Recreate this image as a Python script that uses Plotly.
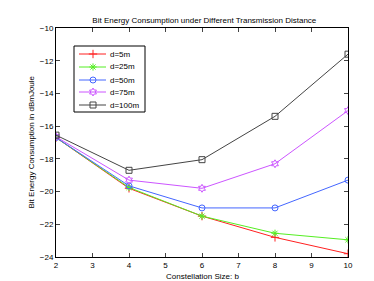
import plotly.graph_objects as go

x = [2, 4, 6, 8, 10]
names = ["d=5m", "d=25m", "d=50m", "d=75m", "d=100m"]
d5 = [-16.7, -19.8, -21.5, -22.8, -23.8]
d25 = [-16.7, -19.75, -21.5, -22.55, -22.95]
d50 = [-16.7, -19.65, -21.0, -21.0, -19.3]
d75 = [-16.65, -19.3, -19.8, -18.3, -15.05]
d100 = [-16.55, -18.7, -18.05, -15.4, -11.6]

series = [d5, d25, d50, d75, d100]
colors = ["#ff2020", "#55ee22", "#4466ff", "#cc55ff", "#444444"]
symbols = ["cross-thin-open", "asterisk-open", "circle-open", "hexagram-open", "square-open"]

# figure geometry (pixels)
W, H = 374, 281
ML, MR, MT, MB = 48, 34, 20, 32
PW, PH = W - ML - MR, H - MT - MB


def px(xpix):
    return (xpix - ML) / PW


def py(ypix):
    return (H - MB - ypix) / PH


fig = go.Figure()
for nm, ys, c, s in zip(names, series, colors, symbols):
    fig.add_trace(go.Scatter(x=x, y=ys, name=nm, mode="lines+markers",
                             line=dict(color=c, width=1), showlegend=False,
                             marker=dict(symbol=s, size=6, color=c, line=dict(color=c, width=1))))

# custom legend (matching the compact MATLAB legend box)
leg_box = (66, 137, 38, 104)
row_y = [46, 59, 72, 84, 97]
seg_x0, seg_x1, mark_x, text_x = 71, 98, 85, 100

shapes = [dict(type="rect", xref="paper", yref="paper", layer="below",
               x0=px(leg_box[0]), x1=px(leg_box[1]), y0=py(leg_box[3]), y1=py(leg_box[2]),
               line=dict(color="#000", width=1), fillcolor="white")]
annotations = []
for nm, c, s, ry in zip(names, colors, symbols, row_y):
    shapes.append(dict(type="line", xref="paper", yref="paper", layer="below",
                       x0=px(seg_x0), x1=px(seg_x1), y0=py(ry), y1=py(ry),
                       line=dict(color=c, width=1)))
    fig.add_trace(go.Scatter(x=[px(mark_x)], y=[py(ry)], xaxis="x2", yaxis="y2", mode="markers",
                             showlegend=False, hoverinfo="skip",
                             marker=dict(symbol=s, size=6, color=c, line=dict(color=c, width=1))))
    annotations.append(dict(text=nm, xref="paper", yref="paper", x=px(text_x), y=py(ry),
                            xanchor="left", yanchor="middle", showarrow=False, font=dict(size=8)))

annotations += [
    dict(text="Constellation Size: b", xref="paper", yref="paper", x=0.5, y=py(268),
         xanchor="center", yanchor="middle", showarrow=False, font=dict(size=8)),
    dict(text="Bit Energy Consumption in dBmJoule", xref="paper", yref="paper", x=px(23), y=0.5,
         xanchor="center", yanchor="middle", textangle=-90, showarrow=False, font=dict(size=8)),
]

axis_common = dict(showgrid=False, zeroline=False, ticks="inside", ticklen=4,
                   mirror="ticks", showline=True, linecolor="#000", linewidth=1,
                   automargin=False, tickfont=dict(size=8, color="#000"))
fig.update_layout(
    width=W, height=H,
    margin=dict(l=ML, r=MR, t=MT, b=MB, autoexpand=False),
    paper_bgcolor="white", plot_bgcolor="white",
    font=dict(family="Liberation Sans, Arial, sans-serif", size=8, color="#000"),
    title=dict(text="Bit Energy Consumption under Different Transmission Distance",
               x=0.525, xanchor="center", y=1 - 12 / H, yanchor="middle", font=dict(size=8)),
    xaxis=dict(range=[2, 10], dtick=1, **axis_common),
    yaxis=dict(range=[-24, -10], dtick=2, **axis_common),
    xaxis2=dict(overlaying="x", range=[0, 1], visible=False, anchor="y2"),
    yaxis2=dict(overlaying="y", range=[0, 1], visible=False, anchor="x2"),
    showlegend=False,
    shapes=shapes,
    annotations=annotations,
)
fig.write_html("out.html")
